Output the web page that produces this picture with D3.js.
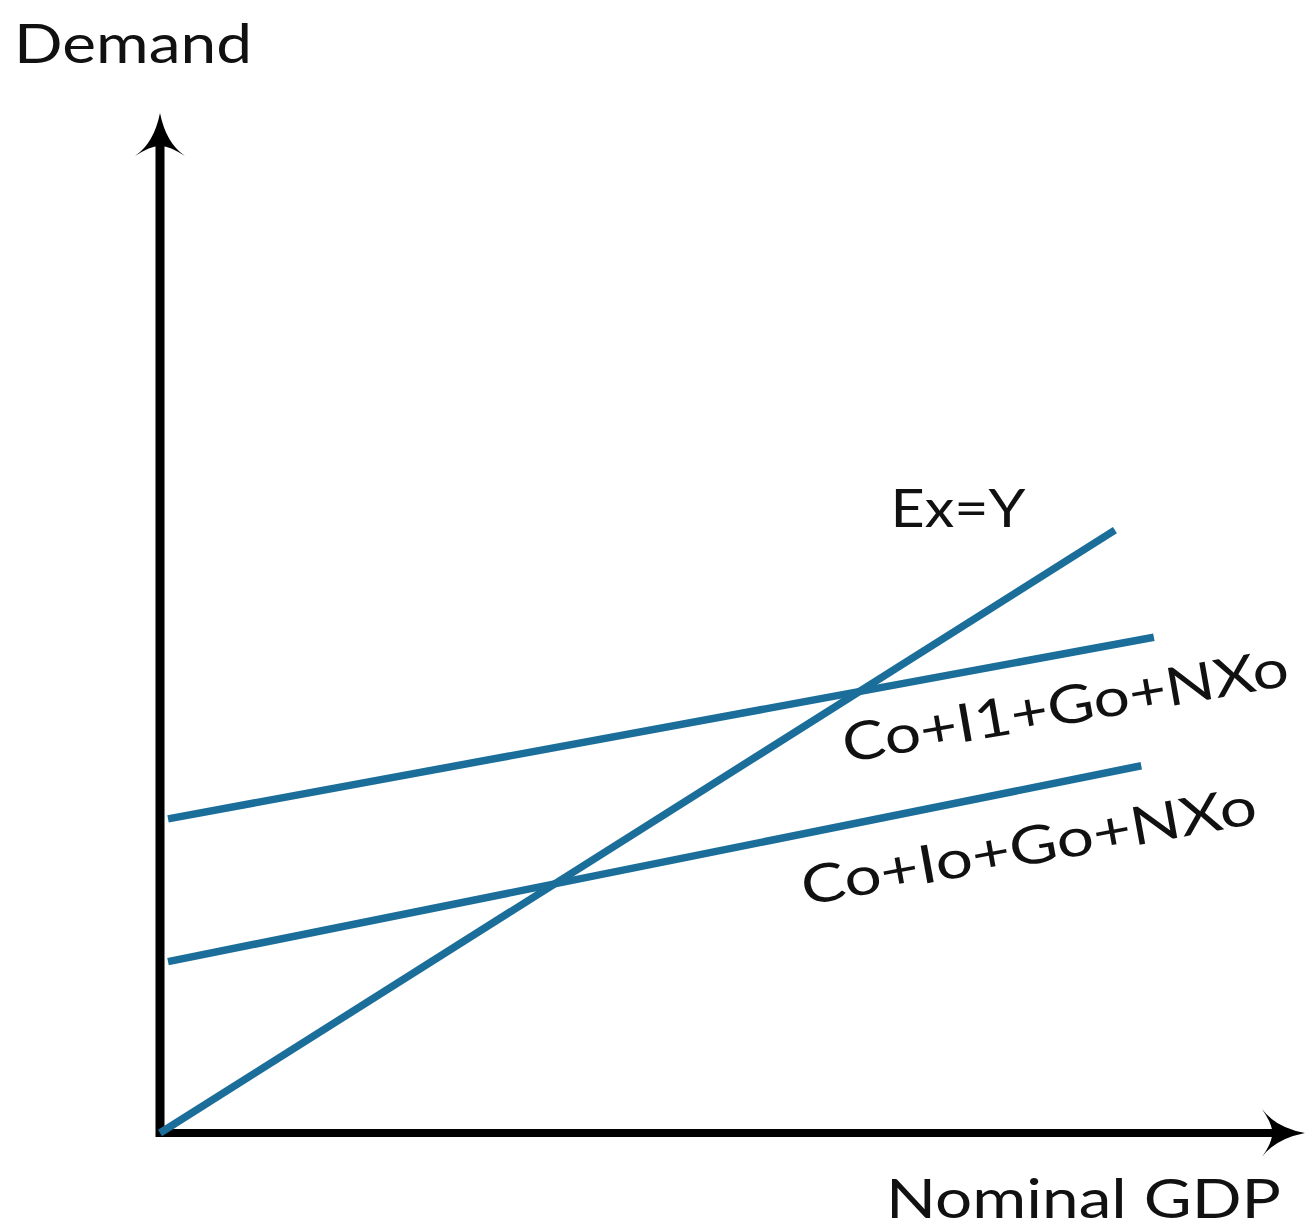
<!DOCTYPE html>
<html>
<head>
<meta charset="utf-8">
<script src="https://cdn.jsdelivr.net/npm/d3@7"></script>
<style>
  body { margin: 0; background: #fff; }
  svg { display: block; }
  text { font-family: Lato, "DejaVu Sans", sans-serif; font-weight: 400; fill: #111; }
</style>
</head>
<body>
<div id="chart"></div>
<script>
// curve end points (x, y) in chart units
var lineNames = ["Ex=Y", "Co+I1+Go+NXo", "Co+Io+Go+NXo"];
var lineX = [[0, 83.4], [0.7, 86.8], [0.7, 85.7]];
var lineY = [[0, 59.1], [30.8, 48.6], [16.8, 36.0]];

// where each curve label sits (x, y), its tilt and its drawn width
var labelX = [63.8, 59.9, 56.3];
var labelY = [59.4, 36.3, 22.3];
var labelAngle = [0, -9.9, -10.3];
var labelWidth = [135, 452, 462];

var yTitle = "Demand";
var xTitle = "Nominal GDP";

var width = 1308, height = 1231;
var blue = "#1a6e99";

var svg = d3.select("#chart")
    .append("svg")
    .attr("width", width)
    .attr("height", height);

// scales (origin of the diagram at the bottom left corner)
var xScale = d3.scaleLinear().domain([0, 100]).range([160, 1305]);
var yScale = d3.scaleLinear().domain([0, 100]).range([1133, 113]);

// axes as plain strokes, arrows drawn separately
svg.append("line")
    .attr("x1", xScale(0)).attr("y1", yScale(0) + 4)
    .attr("x2", xScale(0)).attr("y2", yScale(100) + 30)
    .attr("stroke", "#000").attr("stroke-width", 9);

svg.append("line")
    .attr("x1", xScale(0) - 4).attr("y1", yScale(0))
    .attr("x2", xScale(100) - 30).attr("y2", yScale(0))
    .attr("stroke", "#000").attr("stroke-width", 8);

// arrow heads with a curved back
function arrowPath(tipX, tipY, dir) {
    // dir: "up" or "right"
    var p = d3.path();
    if (dir == "up") {
        p.moveTo(tipX, tipY);
        p.quadraticCurveTo(tipX + 6, tipY + 30, tipX + 25, tipY + 43);
        p.quadraticCurveTo(tipX + 8, tipY + 32, tipX, tipY + 33);
        p.quadraticCurveTo(tipX - 8, tipY + 32, tipX - 25, tipY + 43);
        p.quadraticCurveTo(tipX - 6, tipY + 30, tipX, tipY);
    } else {
        p.moveTo(tipX, tipY);
        p.quadraticCurveTo(tipX - 30, tipY - 6, tipX - 43, tipY - 24);
        p.quadraticCurveTo(tipX - 32, tipY - 8, tipX - 33, tipY);
        p.quadraticCurveTo(tipX - 32, tipY + 8, tipX - 43, tipY + 24);
        p.quadraticCurveTo(tipX - 30, tipY + 6, tipX, tipY);
    }
    p.closePath();
    return p.toString();
}

svg.append("path")
    .attr("d", arrowPath(xScale(0), yScale(100), "up"))
    .attr("fill", "#000");

svg.append("path")
    .attr("d", arrowPath(xScale(100), yScale(0), "right"))
    .attr("fill", "#000");

// the three curves
var line = d3.line()
    .x(function(d) { return xScale(d[0]); })
    .y(function(d) { return yScale(d[1]); });

lineNames.forEach(function(name, i) {
    var pts = [[lineX[i][0], lineY[i][0]], [lineX[i][1], lineY[i][1]]];
    svg.append("path")
        .datum(pts)
        .attr("d", line)
        .attr("fill", "none")
        .attr("stroke", blue)
        .attr("stroke-width", 7.5);
});

// curve labels, stretched to the width of the original lettering
lineNames.forEach(function(name, i) {
    var lx = xScale(labelX[i]), ly = yScale(labelY[i]);
    svg.append("text")
        .attr("transform", "translate(" + lx + "," + ly + ") rotate(" + labelAngle[i] + ")")
        .attr("textLength", labelWidth[i])
        .attr("lengthAdjust", "spacingAndGlyphs")
        .style("font-size", "53px")
        .text(name);
});

// axis titles
svg.append("text")
    .attr("x", 14)
    .attr("y", 63)
    .attr("textLength", 238)
    .attr("lengthAdjust", "spacingAndGlyphs")
    .style("font-size", "55px")
    .text(yTitle);

svg.append("text")
    .attr("x", 886)
    .attr("y", 1218)
    .attr("textLength", 395)
    .attr("lengthAdjust", "spacingAndGlyphs")
    .style("font-size", "55px")
    .text(xTitle);
</script>
</body>
</html>
